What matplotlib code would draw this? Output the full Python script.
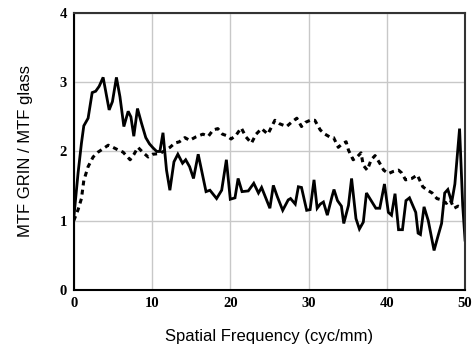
import numpy as np
import matplotlib.pyplot as plt

# MTF ratio, solid curve
x_solid = [0, 0.55, 0.98, 1.28, 1.83, 2.35, 2.8, 3.24, 3.75, 4.52, 4.94, 5.45, 5.9, 6.4, 6.95, 7.3,
           7.67, 8.14, 8.65, 9.2, 9.67, 10.14, 10.6, 11.0, 11.4, 11.85, 12.28, 12.8, 13.3, 13.9,
           14.3, 14.8, 15.3, 15.9, 16.9, 17.4, 18.25, 18.9, 19.5, 20.0, 20.6, 21.0, 21.5, 22.3,
           23.0, 23.6, 24.0, 24.6, 25.06, 25.5, 26.0, 26.7, 27.4, 27.7, 28.3, 28.7, 29.1, 29.76,
           30.2, 30.7, 31.1, 31.5, 31.9, 32.4, 33.0, 33.25, 33.7, 34.2, 34.5, 35.1, 35.5, 36.06,
           36.5, 37.0, 37.4, 38.0, 38.6, 39.1, 39.7, 40.2, 40.6, 41.05, 41.5, 42.0, 42.45, 42.9,
           43.7, 44.0, 44.3, 44.76, 45.3, 46.04, 46.5, 47.0, 47.4, 47.8, 48.3, 48.7, 49.3, 49.7, 50]
y_solid = [1.04, 1.69, 2.12, 2.37, 2.48, 2.85, 2.87, 2.94, 3.07, 2.60, 2.72, 3.07, 2.79, 2.36, 2.58, 2.50,
           2.22, 2.62, 2.41, 2.20, 2.11, 2.05, 2.00, 2.00, 2.27, 1.73, 1.44, 1.85, 1.96, 1.83,
           1.88, 1.78, 1.61, 1.96, 1.42, 1.44, 1.32, 1.44, 1.88, 1.31, 1.33, 1.61, 1.42, 1.43,
           1.54, 1.40, 1.48, 1.31, 1.18, 1.51, 1.35, 1.15, 1.30, 1.32, 1.24, 1.49, 1.48, 1.15,
           1.16, 1.59, 1.18, 1.24, 1.27, 1.08, 1.35, 1.45, 1.29, 1.21, 0.96, 1.22, 1.61, 1.03,
           0.88, 0.98, 1.40, 1.29, 1.18, 1.18, 1.53, 1.12, 1.08, 1.39, 0.87, 0.87, 1.29, 1.33,
           1.12, 0.82, 0.80, 1.20, 1.00, 0.57, 0.76, 0.96, 1.40, 1.45, 1.27, 1.53, 2.33, 1.22, 0.72]

# MTF ratio, dashed curve
x_dash = [0, 0.55, 0.98, 1.28, 1.83, 2.47, 3.1, 3.75, 4.4, 5.0, 5.7, 6.3, 6.7, 7.2, 7.7, 8.2, 8.8,
          9.5, 10.1, 11.0, 11.6, 12.3, 12.9, 13.5, 14.2, 14.8, 15.6, 16.5, 17.2, 17.8, 18.4, 19.0,
          19.5, 20.1, 20.7, 21.4, 22.0, 22.7, 23.3, 24.0, 24.8, 25.7, 26.3, 27.2, 27.8, 28.5,
          29.1, 29.6, 30.2, 30.8, 31.5, 32.1, 32.7, 33.2, 33.8, 34.3, 34.8, 35.1, 35.7, 36.2,
          36.7, 37.0, 37.5, 38.0, 38.5, 39.1, 39.6, 40.2, 40.8, 41.5, 41.9, 42.4, 43.2, 43.9,
          44.6, 45.2, 45.8, 46.4, 47.0, 47.6, 48.1, 48.6, 49.1, 49.8]
y_dash = [1.00, 1.16, 1.32, 1.58, 1.78, 1.92, 1.99, 2.04, 2.09, 2.06, 2.02, 1.99, 1.94, 1.88, 1.96, 2.06, 1.99,
          1.92, 1.96, 1.97, 2.01, 2.06, 2.12, 2.14, 2.20, 2.16, 2.21, 2.25, 2.22, 2.31, 2.33, 2.25,
          2.23, 2.18, 2.23, 2.34, 2.21, 2.12, 2.25, 2.33, 2.25, 2.45, 2.40, 2.36, 2.42, 2.48,
          2.36, 2.42, 2.45, 2.45, 2.31, 2.25, 2.21, 2.20, 2.06, 2.11, 2.14, 2.02, 1.88, 1.92,
          1.98, 1.80, 1.73, 1.88, 1.94, 1.83, 1.73, 1.68, 1.71, 1.73, 1.69, 1.59, 1.61, 1.66,
          1.49, 1.44, 1.40, 1.32, 1.30, 1.25, 1.30, 1.18, 1.21, 1.18]

xticks = [0, 10, 20, 30, 40, 50]
yticks = [0, 1, 2, 3, 4]

fig = plt.figure(figsize=(4.76, 3.51), dpi=100)
ax = fig.add_axes([0.155, 0.174, 0.822, 0.789])

ax.plot(x_solid, y_solid, color='black', lw=2.0, solid_joinstyle='miter')
ax.plot(x_dash, y_dash, color='black', lw=2.2, linestyle=(0, (1.6, 1.4)))

ax.set_xlim(0, 50)
ax.set_ylim(0, 4)
ax.set_xticks(xticks)
ax.set_yticks(yticks)
ax.grid(True, color='#c8c8c8', lw=1.0)
ax.set_axisbelow(True)
ax.tick_params(length=0, pad=5)
for lab in ax.get_xticklabels() + ax.get_yticklabels():
    lab.set_family('Liberation Serif')
    lab.set_fontweight('bold')
    lab.set_fontsize(10.5)
for s in ax.spines.values():
    s.set_linewidth(1.5)
    s.set_color('black')
ax.spines['top'].set_color('#333333')
ax.spines['right'].set_color('#333333')

ax.set_xlabel('Spatial Frequency (cyc/mm)', family='Liberation Sans', fontsize=12, labelpad=14)
ax.set_ylabel('MTF GRIN / MTF glass', family='Liberation Sans', fontsize=12, labelpad=19)

fig.savefig('out.png', dpi=100)
